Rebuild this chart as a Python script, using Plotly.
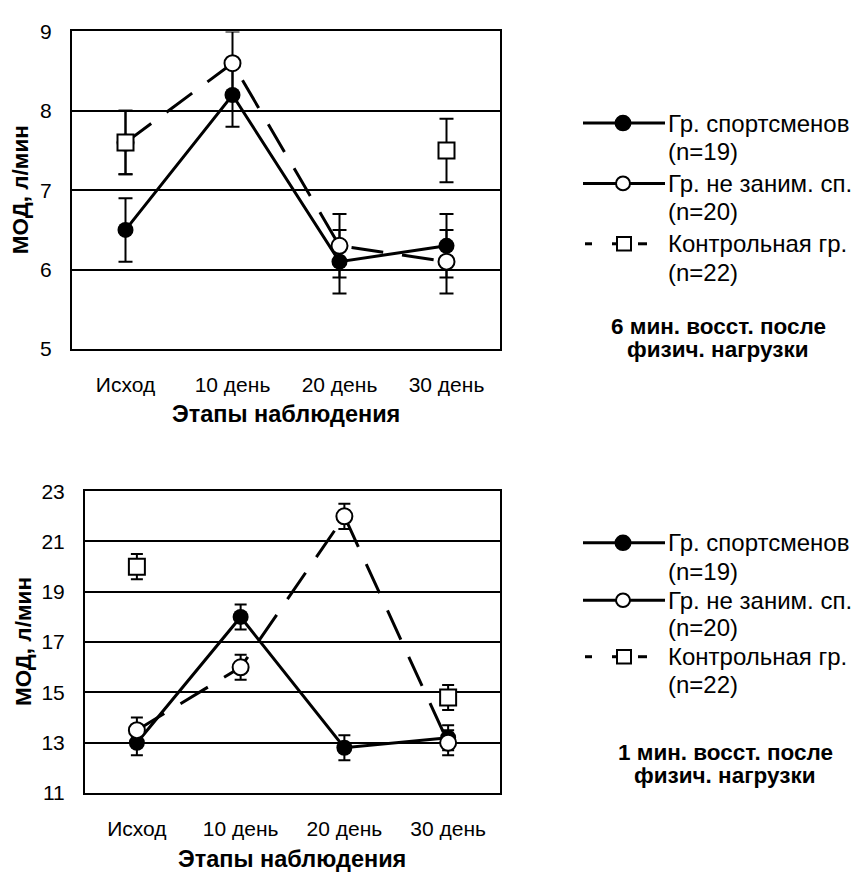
import plotly.graph_objects as go

# Observation stages (x categories)
stages = ["Исход", "10 день", "20 день", "30 день"]

# Panel 1: 6 min of recovery after exercise (МОД, л/мин)
sport_6 = [6.5, 8.2, 6.1, 6.3]
sport_6_err = [0.4, 0.4, 0.4, 0.4]
nonsport_6 = [7.6, 8.6, 6.3, 6.1]
nonsport_6_err = [0.4, 0.4, 0.4, 0.4]
control_6 = [7.6, None, None, 7.5]
control_6_err = [0.4, None, None, 0.4]

# Panel 2: 1 min of recovery after exercise (МОД, л/мин)
sport_1 = [13.0, 18.0, 12.8, 13.2]
sport_1_err = [0.5, 0.5, 0.5, 0.5]
nonsport_1 = [13.5, 16.0, 22.0, 13.0]
nonsport_1_err = [0.5, 0.5, 0.5, 0.5]
control_1 = [20.0, None, None, 14.8]
control_1_err = [0.5, None, None, 0.5]

y_ticks_6 = [5, 6, 7, 8, 9]
y_ticks_1 = [11, 13, 15, 17, 19, 21, 23]

legend_lines = [
    ("Гр. спортсменов", "(n=19)"),
    ("Гр. не заним. сп.", "(n=20)"),
    ("Контрольная гр.", "(n=22)"),
]
panel_notes = [
    ("6 мин. восст. после", "физич. нагрузки"),
    ("1 мин. восст. после", "физич. нагрузки"),
]
x_title = "Этапы наблюдения"
y_title = "МОД, л/мин"

W, H = 862, 881
FONT = "Liberation Sans, Arial, sans-serif"
BLACK = "#000000"


def px(x):
    return x / W


def py(y):
    return 1 - y / H


fig = go.Figure()


def add_panel(xa, ya, sport, sport_err, nonsport, nonsport_err, control, control_err, cap):
    fig.add_trace(go.Scatter(
        x=stages, y=sport, xaxis=xa, yaxis=ya, mode="lines+markers",
        line=dict(color=BLACK, width=3),
        marker=dict(symbol="circle", size=16, color=BLACK),
        error_y=dict(type="data", array=sport_err, color=BLACK, thickness=2, width=cap),
        showlegend=False, hoverinfo="skip", cliponaxis=True,
    ))
    fig.add_trace(go.Scatter(
        x=stages, y=nonsport, xaxis=xa, yaxis=ya, mode="lines+markers",
        line=dict(color=BLACK, width=3, dash="32px,19px"),
        marker=dict(symbol="circle", size=16, color="white", line=dict(color=BLACK, width=2)),
        error_y=dict(type="data", array=nonsport_err, color=BLACK, thickness=2, width=cap),
        showlegend=False, hoverinfo="skip", cliponaxis=True,
    ))
    fig.add_trace(go.Scatter(
        x=stages, y=control, xaxis=xa, yaxis=ya, mode="markers",
        marker=dict(symbol="square", size=16, color="white", line=dict(color=BLACK, width=2)),
        error_y=dict(type="data", array=control_err, color=BLACK, thickness=2, width=cap),
        showlegend=False, hoverinfo="skip", cliponaxis=True,
    ))


add_panel("x", "y", sport_6, sport_6_err, nonsport_6, nonsport_6_err, control_6, control_6_err, 7)
add_panel("x2", "y2", sport_1, sport_1_err, nonsport_1, nonsport_1_err, control_1, control_1_err, 6)

xaxis_common = dict(
    type="category", categoryorder="array", categoryarray=stages,
    range=[-0.5, 3.5], showgrid=False, zeroline=False,
    showline=True, linecolor=BLACK, linewidth=2, mirror=True,
    ticks="", ticklabelstandoff=16,
    tickfont=dict(family=FONT, size=21, color=BLACK),
)
yaxis_common = dict(
    showgrid=True, gridcolor=BLACK, gridwidth=2, zeroline=False,
    showline=True, linecolor=BLACK, linewidth=2, mirror=True,
    ticks="", ticklabelstandoff=14,
    tickfont=dict(family=FONT, size=21, color=BLACK),
)

fig.update_layout(
    width=W, height=H,
    margin=dict(l=0, r=0, t=0, b=0),
    paper_bgcolor="white", plot_bgcolor="white",
    showlegend=False,
    xaxis=dict(domain=[px(72), px(500)], anchor="y", **xaxis_common),
    yaxis=dict(domain=[py(346), py(20)], anchor="x", range=[5, 9],
               tickvals=y_ticks_6, **yaxis_common),
    xaxis2=dict(domain=[px(85), px(500)], anchor="y2", **xaxis_common),
    yaxis2=dict(domain=[py(802), py(492)], anchor="x2", range=[11, 23],
                tickvals=y_ticks_1, **yaxis_common),
)

annotations = []
shapes = []

# Axis titles
for cx, cy, yx, yy in [(286, 413, 20, 183), (292, 870, 23, 647)]:
    annotations.append(dict(
        x=px(cx), y=py(cy), xref="paper", yref="paper", text=x_title, showarrow=False,
        xanchor="center", yanchor="middle",
        font=dict(family=FONT, size=23.5, color=BLACK, weight="bold"),
    ))
    annotations.append(dict(
        x=px(yx), y=py(yy), xref="paper", yref="paper", text=y_title, showarrow=False,
        textangle=-90, xanchor="center", yanchor="middle",
        font=dict(family=FONT, size=22.5, color=BLACK, weight="bold"),
    ))

# Legend blocks and panel notes
legend_rows = [
    # (row y for each legend entry, second-line ys, note line ys, note center x)
    ([114, 176, 238], [143, 205, 267], (323, 347), 718),
    ([545, 604, 662], [574, 632, 691], (760, 784), 725),
]
for (entry_ys, sub_ys, note_ys, note_x), note in zip(legend_rows, panel_notes):
    for i, ((line1, line2), ey, sy) in enumerate(zip(legend_lines, entry_ys, sub_ys)):
        annotations.append(dict(
            x=px(666), y=py(ey), xref="paper", yref="paper", text=line1, showarrow=False,
            xanchor="left", yanchor="middle",
            font=dict(family=FONT, size=24, color=BLACK),
        ))
        annotations.append(dict(
            x=px(666), y=py(sy), xref="paper", yref="paper", text=line2, showarrow=False,
            xanchor="left", yanchor="middle",
            font=dict(family=FONT, size=24, color=BLACK),
        ))
        if i < 2:
            shapes.append(dict(type="line", xref="paper", yref="paper",
                               x0=px(583), x1=px(665), y0=py(ey), y1=py(ey),
                               line=dict(color=BLACK, width=3)))
            r = 7.5 if i == 0 else 7
            shapes.append(dict(type="circle", xref="paper", yref="paper",
                               x0=px(623 - r), x1=px(623 + r), y0=py(ey + r), y1=py(ey - r),
                               fillcolor=BLACK if i == 0 else "white",
                               line=dict(color=BLACK, width=2)))
        else:
            for a, b in [(585, 592), (612, 617), (638, 647)]:
                shapes.append(dict(type="line", xref="paper", yref="paper",
                                   x0=px(a), x1=px(b), y0=py(ey), y1=py(ey),
                                   line=dict(color=BLACK, width=3)))
            shapes.append(dict(type="rect", xref="paper", yref="paper",
                               x0=px(617), x1=px(631), y0=py(ey + 7), y1=py(ey - 7),
                               fillcolor="white", line=dict(color=BLACK, width=2)))
    for txt, ny in zip(note, note_ys):
        annotations.append(dict(
            x=px(note_x), y=py(ny), xref="paper", yref="paper", text=txt, showarrow=False,
            xanchor="center", yanchor="middle",
            font=dict(family=FONT, size=22.5, color=BLACK, weight="bold"),
        ))

fig.update_layout(annotations=annotations, shapes=shapes)

fig.write_html("out.html")
